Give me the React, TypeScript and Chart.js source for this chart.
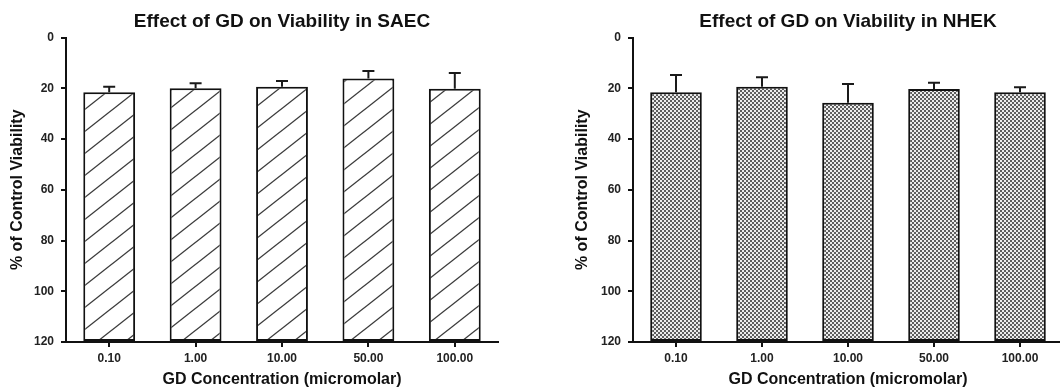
import React, { useEffect, useRef } from "react";
import { Chart, registerables } from "chart.js";

Chart.register(...registerables);

// ---- data ----
const concentrations = ["0.10", "1.00", "10.00", "50.00", "100.00"];
const saecViability = [21.6, 20.0, 19.4, 16.2, 20.2];
const saecError = [2.2, 2.0, 2.3, 3.0, 6.2];
const nhekViability = [21.6, 19.4, 25.7, 20.3, 21.6];
const nhekError = [6.8, 3.7, 7.4, 2.5, 2.0];
const yMin = 0;
const yMax = 120;
const yStep = 20;

const FONT = "'Liberation Sans', Arial, sans-serif";

function makeHatch(): CanvasPattern | string {
  const c = document.createElement("canvas");
  const W = 28, H = 22;
  c.width = W; c.height = H;
  const g = c.getContext("2d");
  if (!g) return "#fff";
  g.fillStyle = "#fff";
  g.fillRect(0, 0, W, H);
  g.strokeStyle = "#3a3a3a";
  g.lineWidth = 1.3;
  for (let k = -1; k <= 1; k++) {
    g.beginPath();
    g.moveTo(-W, H + H + k * H);
    g.lineTo(2 * W, -H + k * H);
    g.stroke();
  }
  return g.createPattern(c, "repeat") || "#fff";
}

function makeChecker(): CanvasPattern | string {
  const c = document.createElement("canvas");
  c.width = 4; c.height = 4;
  const g = c.getContext("2d");
  if (!g) return "#999";
  g.fillStyle = "#ececec";
  g.fillRect(0, 0, 4, 4);
  g.fillStyle = "#5e5e5e";
  g.fillRect(0, 0, 2, 2);
  g.fillRect(2, 2, 2, 2);
  return g.createPattern(c, "repeat") || "#999";
}

const errorBarPlugin = {
  id: "errorBars",
  afterDatasetsDraw(chart: any) {
    const errs: number[] = chart.options.plugins.errorBars?.errors || [];
    const meta = chart.getDatasetMeta(0);
    const ys = chart.scales.y;
    const ds = chart.data.datasets[0];
    const ctx = chart.ctx;
    ctx.save();
    ctx.strokeStyle = "#1a1a1a";
    ctx.lineWidth = 2;
    meta.data.forEach((el: any, i: number) => {
      const v = ds.data[i] as number;
      const e = errs[i] || 0;
      const x = el.x;
      const y0 = ys.getPixelForValue(v);
      const y1 = ys.getPixelForValue(v - e);
      ctx.beginPath();
      ctx.moveTo(x, y0);
      ctx.lineTo(x, y1);
      ctx.moveTo(x - 6, y1);
      ctx.lineTo(x + 6, y1);
      ctx.stroke();
    });
    ctx.restore();
  },
};

function buildConfig(
  title: string,
  values: number[],
  errors: number[],
  fill: any,
  padLeft: number,
  padRight: number,
  yWidth: number
): any {
  return {
    type: "bar",
    data: {
      labels: concentrations,
      datasets: [
        {
          data: values,
          base: yMax,
          backgroundColor: fill,
          borderColor: "#111",
          borderWidth: 2,
          borderSkipped: false,
          barPercentage: 0.6,
          categoryPercentage: 1,
        },
      ],
    },
    options: {
      responsive: false,
      animation: false,
      layout: { padding: { left: padLeft, right: padRight, top: 0, bottom: 0 } },
      plugins: {
        legend: { display: false },
        tooltip: { enabled: false },
        title: {
          display: true,
          text: title,
          fullSize: false,
          color: "#111",
          font: { family: FONT, size: 19, weight: "bold" },
          padding: { top: 10.6, bottom: 4.1 },
        },
        errorBars: { errors },
      },
      scales: {
        x: {
          afterFit: (s: any) => { s.height = 50; },
          grid: {
            display: true,
            offset: false,
            drawOnChartArea: false,
            drawTicks: true,
            tickLength: 5,
            color: "#111",
            lineWidth: 2,
          },
          border: { display: true, color: "#111", width: 2 },
          ticks: {
            color: "#222",
            padding: 4,
            font: { family: FONT, size: 12, weight: "bold" },
          },
          title: {
            display: true,
            text: "GD Concentration (micromolar)",
            color: "#111",
            font: { family: FONT, size: 16, weight: "bold" },
            padding: { top: 0, bottom: 2.4 },
          },
        },
        y: {
          reverse: true,
          min: yMin,
          max: yMax,
          afterFit: (s: any) => { s.width = yWidth; },
          grid: {
            display: true,
            drawOnChartArea: false,
            drawTicks: true,
            tickLength: 5,
            color: "#111",
            lineWidth: 2,
          },
          border: { display: true, color: "#111", width: 2 },
          ticks: {
            stepSize: yStep,
            color: "#222",
            padding: 7,
            font: { family: FONT, size: 12, weight: "bold" },
          },
          title: {
            display: true,
            text: "% of Control Viability",
            color: "#111",
            font: { family: FONT, size: 16, weight: "bold" },
            padding: { top: 8.4, bottom: 0 },
          },
        },
      },
    },
    plugins: [errorBarPlugin],
  };
}

function Panel(props: {
  title: string;
  values: number[];
  errors: number[];
  kind: "hatch" | "checker";
  width: number;
  padLeft: number;
  padRight: number;
  yWidth: number;
}) {
  const ref = useRef<HTMLCanvasElement | null>(null);
  useEffect(() => {
    if (!ref.current) return;
    const fill = props.kind === "hatch" ? makeHatch() : makeChecker();
    const chart = new Chart(
      ref.current,
      buildConfig(props.title, props.values, props.errors, fill, props.padLeft, props.padRight, props.yWidth)
    );
    return () => chart.destroy();
  }, []);
  return <canvas ref={ref} width={props.width} height={392} style={{ display: "block" }} />;
}

export default function App() {
  return (
    <div
      style={{
        position: "fixed",
        left: 0,
        top: 0,
        width: 1060,
        height: 392,
        overflow: "hidden",
        background: "#fff",
      }}
    >
      <div style={{ position: "absolute", left: 0, top: 0 }}>
        <Panel
          title="Effect of GD on Viability in SAEC"
          values={saecViability}
          errors={saecError}
          kind="hatch"
          width={530}
          padLeft={0}
          padRight={32}
          yWidth={66}
        />
      </div>
      <div style={{ position: "absolute", left: 530, top: 0 }}>
        <Panel
          title="Effect of GD on Viability in NHEK"
          values={nhekViability}
          errors={nhekError}
          kind="checker"
          width={540}
          padLeft={35}
          padRight={7}
          yWidth={68}
        />
      </div>
    </div>
  );
}
